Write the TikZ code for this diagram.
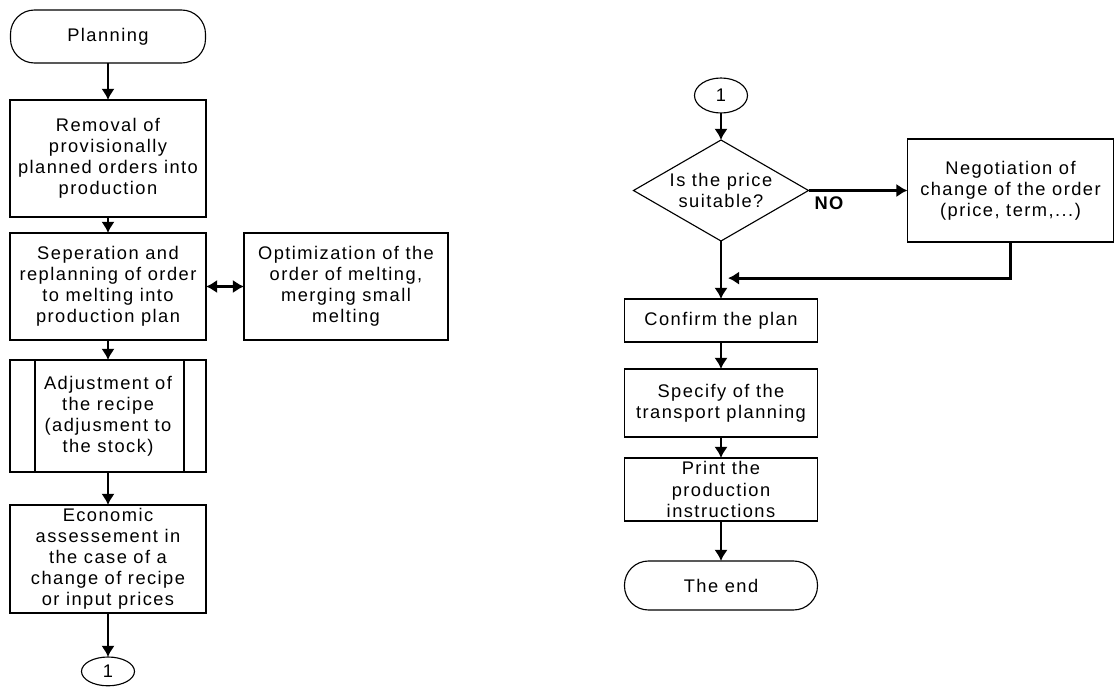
\documentclass[tikz,border=0pt]{standalone}
\usepackage{fontspec}
\setmainfont[LetterSpace=8]{Liberation Sans}
\usetikzlibrary{arrows.meta,positioning,shapes.geometric,calc}
\tikzset{
box/.style={draw,line width=1.2pt,outer sep=0pt,align=center,inner xsep=1pt,inner ysep=0pt,minimum width=4.9cm},
terminal/.style={draw,line width=.8pt,outer sep=0pt,rounded corners=.6cm,align=center,minimum width=4.875cm},
connector/.style={draw,ellipse,line width=.8pt,outer sep=0pt,inner sep=0pt,minimum width=1.325cm},
decision/.style={draw,diamond,line width=.8pt,outer sep=0pt,inner sep=0pt,minimum width=4.375cm,minimum height=2.525cm},
arrow/.style={-{Latex[length=2.8mm,width=3.4mm]},line width=2pt},
twoarrow/.style={{Latex[length=2.8mm,width=3.4mm]}-{Latex[length=2.8mm,width=3.4mm]},line width=2pt}
}
\begin{document}
\begin{tikzpicture}[font=\fontsize{13}{15}\selectfont]
\useasboundingbox (0,0) rectangle (27.85,-17.175);
% left column
\node[terminal,minimum height=1.325cm] (plan) at (2.7,-.9125) {Planning};
\node[box,minimum height=2.925cm,below=.925cm of plan] (removal) {Removal of\\provisionally\\planned orders into\\production};
\node[box,minimum height=2.675cm,below=.4cm of removal] (sep) {Seperation and\\replanning of order\\to melting into\\production plan};
\node[box,minimum width=5.1cm,minimum height=2.675cm,right=.95cm of sep] (opt) {Optimization of the\\order of melting,\\merging small\\melting};
\node[box,minimum height=2.8cm,below=.5cm of sep] (adj) {Adjustment of\\the recipe\\(adjusment to\\the stock)};
\node[box,minimum height=2.7cm,below=.825cm of adj] (econ) {Economic\\assessement in\\the case of a\\change of recipe\\or input prices};
\node[connector,minimum height=.72cm,below=1.1cm of econ] (outA) {1};
\draw[line width=1.2pt] ([xshift=.625cm]adj.north west) -- ([xshift=.625cm]adj.south west);
\draw[line width=1.2pt] ([xshift=-.55cm]adj.north east) -- ([xshift=-.55cm]adj.south east);
% right column
\node[connector,minimum height=.875cm] (inB) at (18.025,-2.3875) {1};
\node[decision,below=.675cm of inB,label={[align=center]center:Is the price\\suitable?}] (price) {};
\node[box,minimum width=5.15cm,minimum height=2.575cm,right=2.475cm of price] (nego) {Negotiation of\\change of the order\\(price, term,...)};
\node[box,minimum width=4.825cm,minimum height=1.075cm,below=1.45cm of price] (confirm) {Confirm the plan};
\node[box,minimum width=4.825cm,minimum height=1.7cm,below=.675cm of confirm] (specify) {Specify of the\\transport planning};
\node[box,minimum width=4.825cm,minimum height=1.575cm,below=.525cm of specify] (print) {Print the\\production\\instructions};
\node[terminal,minimum width=4.825cm,minimum height=1.225cm,below=1cm of print] (theend) {The end};
\coordinate (merge) at ($(price.south)!.64!(confirm.north)$);
% connectors
\draw[arrow] (plan)--(removal);
\draw[arrow] (removal)--(sep);
\draw[twoarrow] (sep)--(opt);
\draw[arrow] (sep)--(adj);
\draw[arrow] (adj)--(econ);
\draw[arrow] (econ)--(outA);
\draw[arrow] (inB)--(price);
\draw[arrow] (price)--(nego) node[pos=0,anchor=north west,font=\fontsize{13}{15}\selectfont\bfseries] {NO};
\draw[arrow,shorten >=.175cm] (nego.south) |- (merge);
\draw[arrow] (price)--(confirm);
\draw[arrow] (confirm)--(specify);
\draw[arrow] (specify)--(print);
\draw[arrow] (print)--(theend);
\end{tikzpicture}
\end{document}
